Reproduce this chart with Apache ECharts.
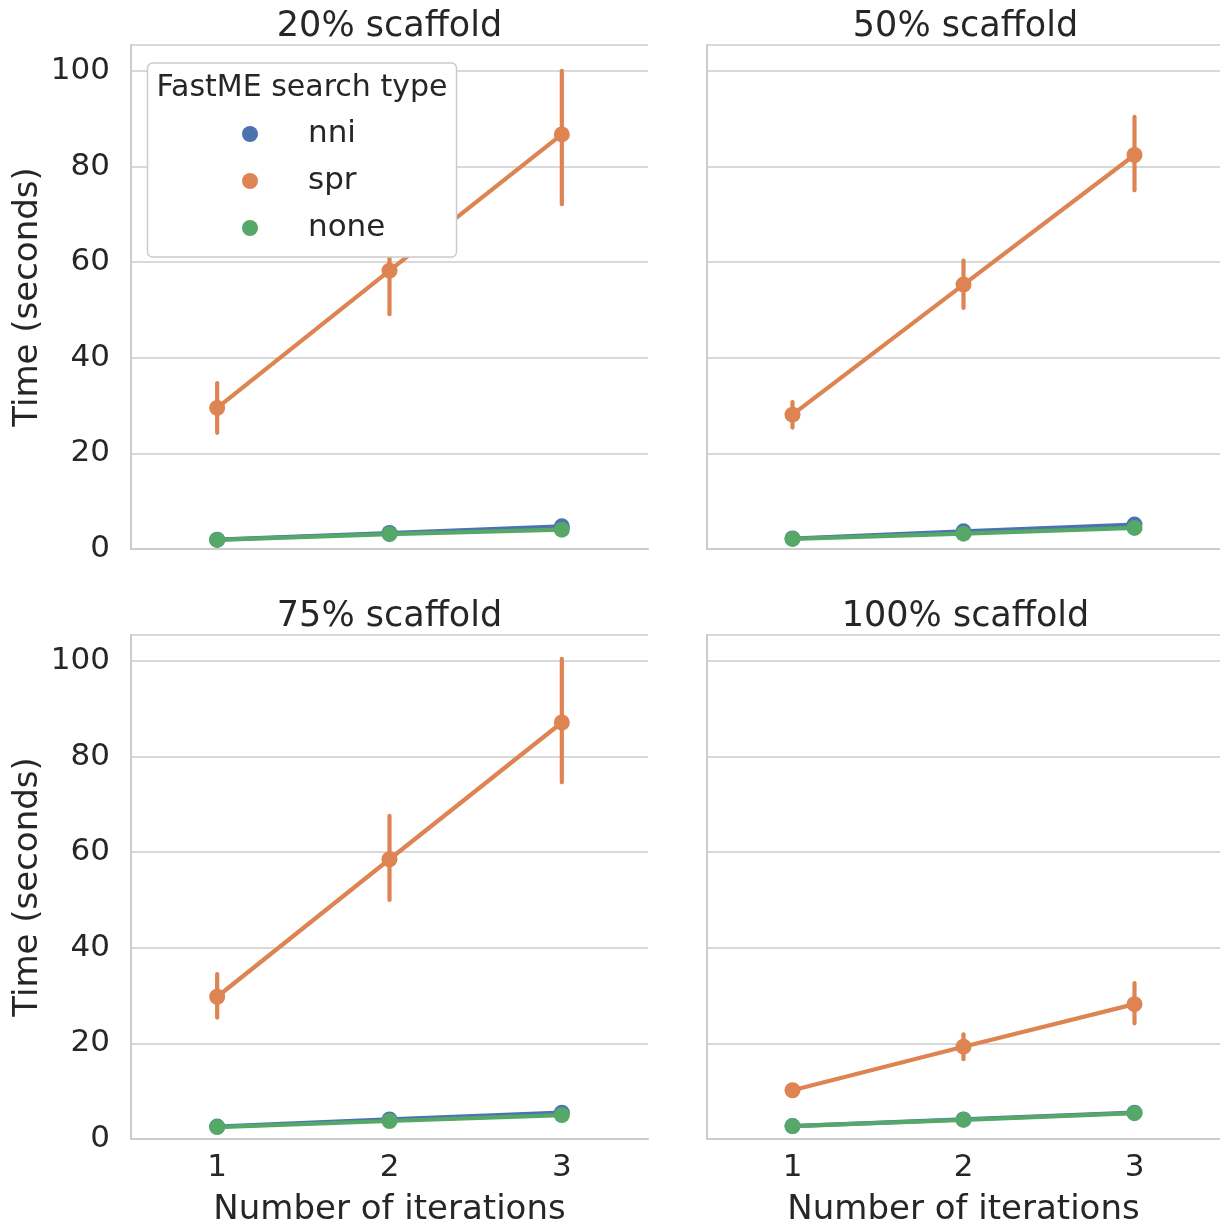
<!DOCTYPE html>
<html>
<head>
<meta charset="utf-8">
<script src="https://cdn.jsdelivr.net/npm/echarts/dist/echarts.min.js"></script>
<style>
html,body{margin:0;padding:0;background:#fff;}
#chart{width:1220px;height:1228px;}
</style>
</head>
<body>
<div id="chart"></div>
<script>
// ---- data ----
const iterations = ['1', '2', '3'];
const panelTitles = ['20% scaffold', '50% scaffold', '75% scaffold', '100% scaffold'];
const searchTypes = ['nni', 'spr', 'none'];
const yTicks = [0, 20, 40, 60, 80, 100];

// 20% scaffold
const nni20 = [1.96, 3.35, 4.75];
const nni20Lo = [1.8, 3.1, 4.5];
const nni20Hi = [2.1, 3.6, 5.0];
const spr20 = [29.5, 58.2, 86.7];
const spr20Lo = [24.3, 49.1, 72.1];
const spr20Hi = [34.7, 67.0, 100.0];
const none20 = [1.9, 3.1, 4.05];
const none20Lo = [1.75, 2.9, 3.8];
const none20Hi = [2.05, 3.3, 4.3];

// 50% scaffold
const nni50 = [2.2, 3.7, 5.1];
const nni50Lo = [2.05, 3.5, 4.85];
const nni50Hi = [2.35, 3.9, 5.35];
const spr50 = [28.1, 55.3, 82.4];
const spr50Lo = [25.4, 50.4, 75.0];
const spr50Hi = [30.7, 60.3, 90.4];
const none50 = [2.1, 3.2, 4.4];
const none50Lo = [1.95, 3.0, 4.15];
const none50Hi = [2.25, 3.4, 4.65];

// 75% scaffold
const nni75 = [2.6, 4.1, 5.5];
const nni75Lo = [2.45, 3.9, 5.2];
const nni75Hi = [2.75, 4.3, 5.8];
const spr75 = [29.75, 58.5, 87.1];
const spr75Lo = [25.4, 50.0, 74.6];
const spr75Hi = [34.5, 67.6, 100.4];
const none75 = [2.5, 3.76, 5.0];
const none75Lo = [2.35, 3.55, 4.75];
const none75Hi = [2.65, 3.95, 5.25];

// 100% scaffold
const nni100 = [2.7, 4.1, 5.5];
const nni100Lo = [2.55, 3.9, 5.25];
const nni100Hi = [2.85, 4.3, 5.75];
const spr100 = [10.2, 19.3, 28.2];
const spr100Lo = [9.6, 16.7, 24.2];
const spr100Hi = [10.8, 21.9, 32.6];
const none100 = [2.7, 4.0, 5.4];
const none100Lo = [2.55, 3.8, 5.15];
const none100Hi = [2.85, 4.2, 5.65];

// ---- assembly ----
const colors = {nni: '#4c72b0', spr: '#dd8452', none: '#55a868'};
const panelData = [
  {nni: [nni20, nni20Lo, nni20Hi], spr: [spr20, spr20Lo, spr20Hi], none: [none20, none20Lo, none20Hi]},
  {nni: [nni50, nni50Lo, nni50Hi], spr: [spr50, spr50Lo, spr50Hi], none: [none50, none50Lo, none50Hi]},
  {nni: [nni75, nni75Lo, nni75Hi], spr: [spr75, spr75Lo, spr75Hi], none: [none75, none75Lo, none75Hi]},
  {nni: [nni100, nni100Lo, nni100Hi], spr: [spr100, spr100Lo, spr100Hi], none: [none100, none100Lo, none100Hi]}
];

const FONT = 'DejaVu Sans';
const TXT = '#262626';
const GRIDC = '#cccccc';

const gridPos = [
  {left: 131, top: 45, width: 517, height: 504},
  {left: 707, top: 45, width: 517, height: 504},
  {left: 131, top: 635, width: 517, height: 504},
  {left: 707, top: 635, width: 517, height: 504}
];

const grids = gridPos.map(g => Object.assign({containLabel: false}, g));
const xAxes = gridPos.map((g, i) => ({
  type: 'category', gridIndex: i, data: iterations, boundaryGap: true,
  axisTick: {show: false},
  axisLine: {show: true, lineStyle: {color: GRIDC, width: 2}},
  axisLabel: {show: i >= 2, fontFamily: FONT, fontSize: 31, color: TXT, margin: 13},
  splitLine: {show: false},
  name: i >= 2 ? 'Number of iterations' : '',
  nameLocation: 'middle', nameGap: 54,
  nameTextStyle: {fontFamily: FONT, fontSize: 34, color: TXT}
}));
const yAxes = gridPos.map((g, i) => ({
  type: 'value', gridIndex: i, min: 0, max: 105.4, interval: 20,
  axisTick: {show: false},
  axisLine: {show: true, lineStyle: {color: GRIDC, width: 2}},
  axisLabel: {show: i % 2 === 0, fontFamily: FONT, fontSize: 31, color: TXT, margin: 21,
    showMaxLabel: false,
    formatter: v => (yTicks.indexOf(v) >= 0 ? String(v) : '')},
  splitLine: {show: true, lineStyle: {color: GRIDC, width: 1.6}},
  name: i % 2 === 0 ? 'Time (seconds)' : '',
  nameLocation: 'middle', nameGap: 86,
  nameTextStyle: {fontFamily: FONT, fontSize: 34, color: TXT}
}));

const series = [];
panelData.forEach((pd, i) => {
  searchTypes.forEach((t, si) => {
    const [mean, lo, hi] = pd[t];
    series.push({
      type: 'custom', name: t + ' ci', xAxisIndex: i, yAxisIndex: i, z: 2 + si * 2,
      data: iterations.map((c, k) => [k, lo[k], hi[k]]),
      encode: {x: 0, y: [1, 2]},
      silent: true,
      renderItem: (params, api) => {
        const p1 = api.coord([api.value(0), api.value(1)]);
        const p2 = api.coord([api.value(0), api.value(2)]);
        return {type: 'line', shape: {x1: p1[0], y1: p1[1], x2: p2[0], y2: p2[1]},
          style: {stroke: colors[t], lineWidth: 4.2, lineCap: 'round'}};
      }
    });
    series.push({
      type: 'line', name: t, xAxisIndex: i, yAxisIndex: i, z: 3 + si * 2,
      data: mean, symbol: 'circle', symbolSize: 16, showSymbol: true,
      color: colors[t],
      itemStyle: {color: colors[t]},
      lineStyle: {color: colors[t], width: 4.2, join: 'round'},
      clip: false
    });
  });
});

const titles = gridPos.map((g, i) => ({
  text: panelTitles[i], left: g.left + g.width / 2 - 5, top: g.top - 41, textAlign: 'center',
  textStyle: {fontFamily: FONT, fontSize: 35, fontWeight: 'normal', color: TXT}
}));

const option = {
  animation: false,
  backgroundColor: '#ffffff',
  title: titles,
  grid: grids,
  xAxis: xAxes,
  yAxis: yAxes,
  series: series,
  legend: {
    data: searchTypes.map(t => ({name: t, icon: 'circle'})),
    orient: 'vertical', left: 242, top: 118, itemWidth: 16, itemHeight: 16, itemGap: 15,
    padding: 0, z: 20, selectedMode: false,
    textStyle: {fontFamily: FONT, fontSize: 31, color: TXT, lineHeight: 32, padding: [0, 0, 0, 45]}
  },
  graphic: [
    {type: 'rect', z: 15, shape: {x: 147.5, y: 63, width: 309, height: 194, r: 5},
      style: {fill: '#ffffff', stroke: '#cccccc', lineWidth: 1.5}},
    {type: 'text', z: 16, x: 302, y: 88,
      style: {text: 'FastME search type', fontFamily: FONT, fontSize: 30, fill: TXT,
        textAlign: 'center', textVerticalAlign: 'middle'}}
  ]
};

const chart = echarts.init(document.getElementById('chart'), null, {renderer: 'canvas'});
chart.setOption(option);
</script>
</body>
</html>
